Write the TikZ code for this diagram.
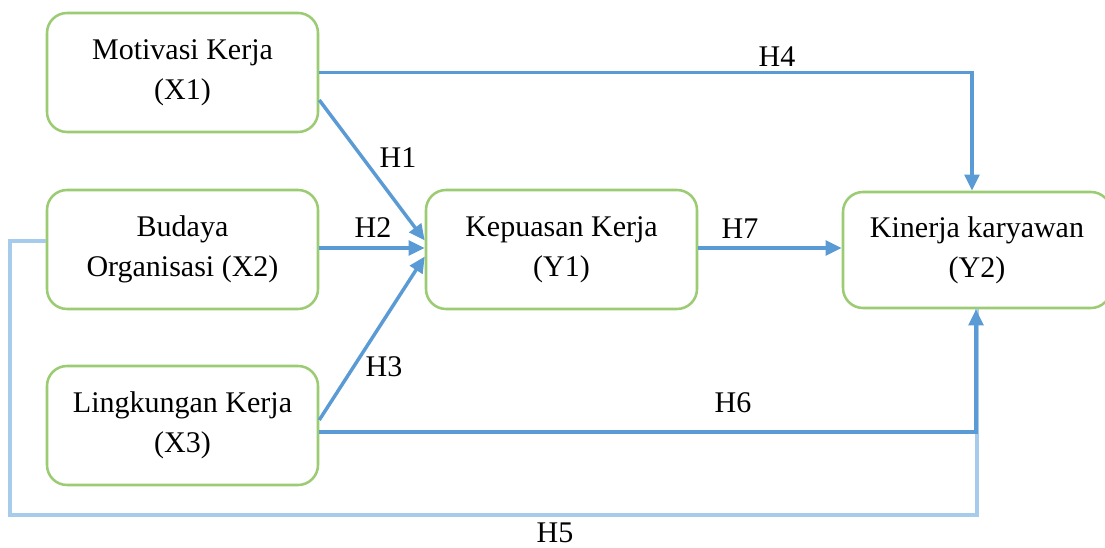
\documentclass[tikz,border=0pt]{standalone}
\usepackage{fontspec}
\setmainfont{Liberation Serif}
\usetikzlibrary{calc,arrows.meta}
\definecolor{boxgreen}{HTML}{9BCB73}
\definecolor{arrblue}{HTML}{5B9BD5}
\definecolor{lightblue}{HTML}{A7CBEB}
\begin{document}
\begin{tikzpicture}[x=0.75pt,y=-0.75pt,
  varbox/.style={draw=boxgreen,line width=1.9pt,rounded corners=15pt,
    minimum width=203.25pt,minimum height=89.25pt,align=center,
    font=\fontsize{22.5}{30}\selectfont,inner sep=0pt},
  hlabel/.style={font=\fontsize{22.5}{27}\selectfont,inner sep=0pt},
  link/.style={draw=arrblue,line width=2.6pt,-{Triangle[length=12pt,width=11pt]}},
  faint/.style={draw=lightblue,line width=2.6pt}]
\useasboundingbox (0,0) rectangle (1105,548);
\clip (0,0) rectangle (1105,548);
\node[varbox] (x1) at (182.5,72.5) {Motivasi Kerja\\(X1)};
\node[varbox] (x2) at (182.5,249.5) {Budaya\\Organisasi (X2)};
\node[varbox] (x3) at (182.5,425.5) {Lingkungan Kerja\\(X3)};
\node[varbox] (y1) at (561.5,249.5) {Kepuasan Kerja\\(Y1)};
\node[varbox,minimum width=201pt,minimum height=87pt] (y2) at (977,250) {Kinerja karyawan\\(Y2)};
\coordinate (c5) at (10,515);
% H5 (light)
\draw[faint] ($(x2.west)+(0,-8.5)$) -| (c5) -| (y2.south);
% H4
\draw[link] (x1.east) -| ($(y2.north)+(-5,0)$);
% H1
\draw[link] ($(x1.east)+(0,27.5)$) -- ($(y1.west)+(0,-9)$);
% H2
\draw[link] ($(x2.east)+(0,-1.5)$) -- ($(y1.west)+(0,-1.5)$);
% H3
\draw[link] ($(x3.east)+(0,-5.5)$) -- ($(y1.west)+(0,7)$);
% H7
\draw[link] ($(y1.east)+(0,-1.5)$) -- ($(y2.west)+(0,-2)$);
% H6
\draw[link] ($(x3.east)+(0,6.5)$) -| ($(y2.south)+(-1,0)$);
\node[hlabel] (h4) at (777,57) {H4};
\node[hlabel] (h1) at (398,158) {H1};
\node[hlabel] (h2) at (373,228) {H2};
\node[hlabel] (h3) at (384,367) {H3};
\node[hlabel] (h7) at (740,229) {H7};
\node[hlabel] (h6) at (733,403) {H6};
\node[hlabel] (h5) at (555,533) {H5};
\end{tikzpicture}
\end{document}
